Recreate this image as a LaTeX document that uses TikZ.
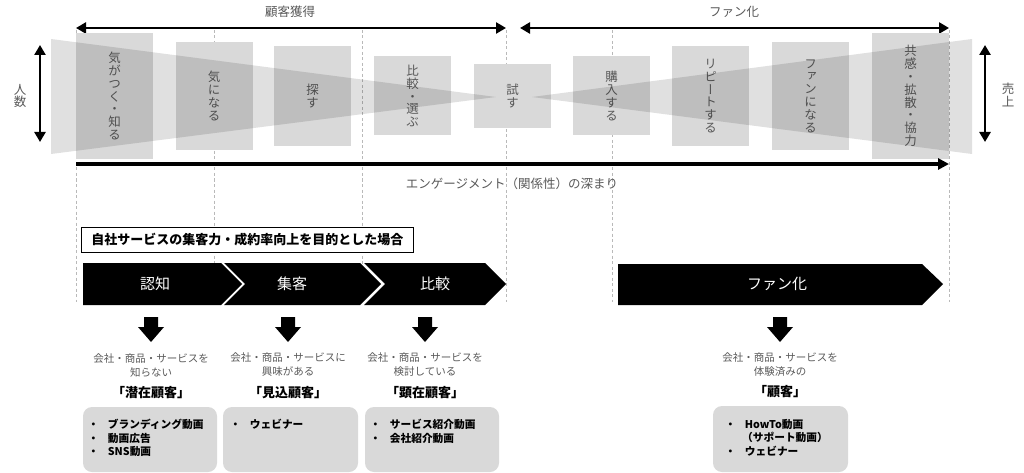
\documentclass[tikz,border=0pt]{standalone}
\usepackage{fontspec}
\setmainfont{Noto Sans CJK JP}
\newfontfamily\tatefont[RawFeature=+vert]{Noto Sans CJK JP}
\usetikzlibrary{arrows.meta}
\definecolor{boxgray}{HTML}{D9D9D9}
\definecolor{inkgray}{HTML}{595959}
\tikzset{
  stage/.style={fill=boxgray, minimum width=77pt, inner sep=0pt, text=inkgray, align=center,
    font=\tatefont\fontsize{12.5}{12.8}\selectfont},
  span/.style={line width=2.5pt, {Triangle[length=10pt,width=11pt]}-{Triangle[length=10pt,width=11pt]}},
  guide/.style={gray!55, line width=0.8pt, dash pattern=on 3pt off 2.5pt},
  wedge/.style={fill=black, opacity=0.12},
  plain/.style={text=inkgray, font=\fontsize{12.5}{12.5}\selectfont},
  chevlabel/.style={text=white, font=\fontsize{15}{15}\selectfont},
  desc/.style={text=inkgray, align=center, font=\fontsize{10.5}{14}\selectfont},
  target/.style={font=\bfseries\fontsize{13}{13}\selectfont},
  listbox/.style={fill=boxgray, rounded corners=9pt},
  listtext/.style={align=left, inner sep=0pt, anchor=north west, font=\bfseries\fontsize{10.7}{13.5}\selectfont},
}
\begin{document}
\begin{tikzpicture}[x=1pt, y=-1pt]
    \useasboundingbox (0,0) rectangle (1024,473);
    % guides
    \draw[guide] (76,30) -- (76,302);
    \draw[guide] (214,30) -- (214,302);
    \draw[guide] (362,30) -- (362,302);
    \draw[guide] (506,30) -- (506,302);
    \draw[guide] (612,30) -- (612,302);
    \draw[guide] (949,30) -- (949,302);
    % spans
    \node[plain] (acq) at (290,12) {顧客獲得};
    \node[plain] (fan) at (734,12) {ファン化};
    \draw[span] (76,28) -- (506,28);
    \draw[span] (520,28) -- (949,28);
    % stages
    \node[stage, minimum height=126pt] (s1) at (114.5,96) {気\\が\\つ\\く\\・\\知\\る};
    \node[stage, minimum height=108pt] (s2) at (214,96) {気\\に\\な\\る};
    \node[stage, minimum height=100pt] (s3) at (312.5,96) {探\\す};
    \node[stage, minimum height=79pt] (s4) at (412.5,96) {比\\較\\・\\選\\ぶ};
    \node[stage, minimum height=64pt] (s5) at (512.5,96) {試\\す};
    \node[stage, minimum height=79pt] (s6) at (611.5,96) {購\\入\\す\\る};
    \node[stage, minimum height=100pt] (s7) at (710.5,96) {リ\\ピ\\ー\\ト\\す\\る};
    \node[stage, minimum height=108pt] (s8) at (810.5,96) {フ\\ァ\\ン\\に\\な\\る};
    \node[stage, minimum height=126pt] (s9) at (910.5,96) {共\\感\\・\\拡\\散\\・\\協\\力};
    \fill[wedge] (51,39) -- (51,154) -- (496,97) -- cycle;
    \fill[wedge] (972,39) -- (972,154) -- (532,97) -- cycle;
    % sides
    \node[text=inkgray, align=center, font=\fontsize{12.5}{11.5}\selectfont] (people) at (20,96) {人\\数};
    \node[text=inkgray, align=center, font=\fontsize{12.5}{12.5}\selectfont] (sales) at (1008,95) {売\\上};
    \draw[span] (40,45) -- (40,142);
    \draw[span] (985,45) -- (985,142);
    \draw[line width=3.5pt, -{Triangle[length=11pt,width=11pt]}] (76,164) -- (949,164);
    \node[plain] (depth) at (512,184) {エンゲージメント（関係性）の深まり};
    % case
    \node[draw, line width=0.8pt, fill=white, anchor=west, minimum height=25pt, inner xsep=10pt,
      font=\bfseries\fontsize{13}{13}\selectfont] (case) at (81,239.5) {自社サービスの集客力・成約率向上を目的とした場合};
    \fill (83,263) -- (221,263) -- (242,284) -- (221,305) -- (83,305) -- cycle;
    \fill (224,263) -- (360,263) -- (381,284) -- (360,305) -- (224,305) -- (245,284) -- cycle;
    \fill (364,263) -- (485,263) -- (506,284) -- (485,305) -- (364,305) -- (385,284) -- cycle;
    \fill (618,264) -- (922,264) -- (943,284) -- (922,305) -- (618,305) -- cycle;
    \node[chevlabel] (aware) at (155,284) {認知};
    \node[chevlabel] (attract) at (292,284) {集客};
    \node[chevlabel] (compare) at (435,284) {比較};
    \node[chevlabel] (fans) at (777,284) {ファン化};
    % down arrows
    \fill[shift={(151,0)}] (-7,317) -- (7,317) -- (7,327) -- (13,327) -- (0,342) -- (-13,327) -- (-7,327) -- cycle;
    \fill[shift={(288,0)}] (-7,317) -- (7,317) -- (7,327) -- (13,327) -- (0,342) -- (-13,327) -- (-7,327) -- cycle;
    \fill[shift={(425,0)}] (-7,317) -- (7,317) -- (7,327) -- (13,327) -- (0,342) -- (-13,327) -- (-7,327) -- cycle;
    \fill[shift={(780,0)}] (-7,317) -- (7,317) -- (7,327) -- (13,327) -- (0,342) -- (-13,327) -- (-7,327) -- cycle;
    % customers
    \node[desc] (d1) at (151,365) {会社・商品・サービスを\\知らない};
    \node[desc] (d2) at (288,365) {会社・商品・サービスに\\興味がある};
    \node[desc] (d3) at (425,365) {会社・商品・サービスを\\検討している};
    \node[desc] (d4) at (780,365) {会社・商品・サービスを\\体験済みの};
    \node[target] (t1) at (151,393) {「潜在顧客」};
    \node[target] (t2) at (288,393) {「見込顧客」};
    \node[target] (t3) at (425,393) {「顕在顧客」};
    \node[target] (t4) at (780,392) {「顧客」};
    % media
    \fill[listbox] (83,407) rectangle (217,472);
    \fill[listbox] (223,407) rectangle (358,472);
    \fill[listbox] (365,407) rectangle (499,472);
    \fill[listbox] (713,406) rectangle (848,472);
    \node[listtext] (m1) at (88,419) {・\hspace{9pt}ブランディング動画\\・\hspace{9pt}動画広告\\・\hspace{9pt}SNS動画};
    \node[listtext] (m2) at (230,419) {・\hspace{9pt}ウェビナー};
    \node[listtext] (m3) at (370,419) {・\hspace{9pt}サービス紹介動画\\・\hspace{9pt}会社紹介動画};
    \node[listtext] (m4) at (725,419) {・\hspace{9pt}HowTo動画\\\hspace{17pt}（サポート動画）\\・\hspace{9pt}ウェビナー};
\end{tikzpicture}
\end{document}
